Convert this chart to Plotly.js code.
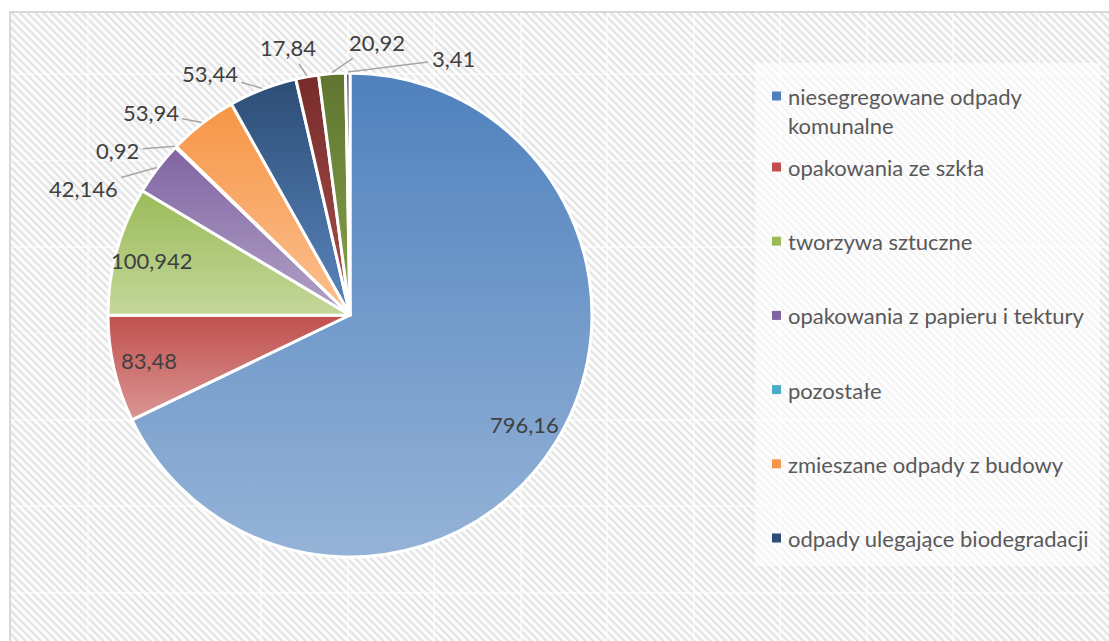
<!DOCTYPE html>
<html><head><meta charset="utf-8">
<script src="https://cdn.plot.ly/plotly-3.0.1.min.js"></script>
<style>
html,body{margin:0;padding:0;background:#fff;}
#wrap{position:relative;width:1109px;height:641px;overflow:hidden;background:#fff;}
#bg{position:absolute;left:9px;top:11px;width:1120px;height:650px;border-left:2px solid #d9d9d9;border-top:2px solid #d9d9d9;
background:
 repeating-linear-gradient(90deg, rgba(255,255,255,0) 0px, rgba(255,255,255,0) 76px, rgba(255,255,255,0.55) 76px, rgba(255,255,255,0.55) 78px, rgba(255,255,255,0) 78px, rgba(255,255,255,0) 86.5px),
 repeating-linear-gradient(180deg, rgba(255,255,255,0) 0px, rgba(255,255,255,0) 60px, rgba(255,255,255,0.55) 60px, rgba(255,255,255,0.55) 62px, rgba(255,255,255,0) 62px, rgba(255,255,255,0) 86.5px),
 repeating-linear-gradient(45deg, #fcfcfc 0px, #fcfcfc 2.2px, #e4e4e4 3.2px, #e4e4e4 4.5px, #fcfcfc 5.5px);}
#chart{position:absolute;left:0;top:0;width:1109px;height:641px;}
</style>
</head><body>
<div id="wrap"><div id="bg"></div><div id="chart"></div></div>
<script>
// ---- data ----
const labels = [
  "niesegregowane odpady<br>komunalne",
  "opakowania ze szkła",
  "tworzywa sztuczne",
  "opakowania z papieru i tektury",
  "pozostałe",
  "zmieszane odpady z budowy",
  "odpady ulegające biodegradacji",
  "kategoria 8",
  "kategoria 9",
  "kategoria 10"
];
const values = [796.16, 83.48, 100.942, 42.146, 0.92, 53.94, 53.44, 17.84, 20.92, 3.41];
const legendCount = 7; // entries visible in the legend

// ---- style ----
const topColors    = ["#4F81BD","#C0504D","#9BBB59","#8064A2","#4BACC6","#F79646","#2C4D75","#772C2A","#5F7530","#4D3B62"];
const bottomColors = ["#95B3D7","#DA9694","#C4D79B","#B3A2C7","#92CDDC","#FAC090","#5A86BE","#A9504D","#87A34C","#7F68A0"];
const FONT = "Lato, 'Open Sans', sans-serif";
const FS = 22;
const LABEL_COLOR = '#404040';

const W = 1109, H = 641;
const dom = {x: [107/W, 593/W], y: [84/H, 568/H]};

const trace = {
  type: 'pie',
  values: values,
  labels: labels,
  textinfo: 'none',
  sort: false,
  direction: 'clockwise',
  rotation: 0,
  marker: {colors: topColors, line: {color: '#ffffff', width: 3}},
  domain: dom,
  showlegend: false,
  hoverinfo: 'label+value',
  automargin: false
};

// ---- geometry derived from the pie domain ----
const pxL = dom.x[0]*W, pxR = dom.x[1]*W, pyT = (1-dom.y[1])*H, pyB = (1-dom.y[0])*H;
const R = Math.min(pxR-pxL, pyB-pyT)/2;
const cx = (pxL+pxR)/2, cy = (pyT+pyB)/2;
const total = values.reduce((a,b)=>a+b, 0);
let cum = 0;
const mids = values.map(v => { const m = (cum + v/2)/total*360; cum += v; return m; });
const fmt = v => String(v).replace('.', ',');
const isInside = values.map(v => v/total > 0.06);
const D2R = Math.PI/180;

const annotations = [];
// inside labels
values.forEach((v, i) => {
  if (!isInside[i]) return;
  const a = mids[i]*D2R, r = 0.85*R;
  annotations.push({xref:'paper', yref:'paper', x:(cx + r*Math.sin(a))/W, y:1-(cy - r*Math.cos(a))/H,
    xanchor:'center', yanchor:'middle', showarrow:false, text: fmt(v),
    font:{family:FONT, size:FS, color:LABEL_COLOR}});
});
// outside labels: spread along an arc so neighbouring boxes do not collide
const outIdx = values.map((v,i)=>i).filter(i => !isInside[i]);
const outText = outIdx.map(i => fmt(values[i]));
const halfW = outText.map(t => t.length*0.5*FS/2);
const ang = outIdx.map(i => mids[i]);
const RL = R + 20;
for (let it = 0; it < 600; it++) {
  for (let j = 1; j < ang.length; j++) {
    const am = (ang[j] + ang[j-1])/2*D2R;
    const need = Math.max(Math.abs(Math.cos(am))*(halfW[j] + halfW[j-1] + 24),
                          Math.abs(Math.sin(am))*(FS*1.25 + 8)) / RL / D2R;
    const d = ang[j] - ang[j-1];
    if (d < need) { const s = (need - d)/2; ang[j-1] -= s; ang[j] += s; }
  }
}
outIdx.forEach((i, k) => {
  const a = ang[k]*D2R, am = mids[i]*D2R;
  const sa = Math.sin(a), ca = Math.cos(a);
  const lx = cx + RL*sa + Math.sign(sa)*(halfW[k] + 6)*Math.abs(sa);
  const ly = cy - RL*ca - Math.sign(ca)*12*Math.abs(ca);
  const tx = cx + (R+1)*Math.sin(am), ty = cy - (R+1)*Math.cos(am);
  annotations.push({xref:'paper', yref:'paper', x: tx/W, y: 1-ty/H,
    ax: lx - tx, ay: ly - ty, axref:'pixel', ayref:'pixel',
    showarrow:true, arrowhead:0, arrowwidth:1.5, arrowcolor:'#a6a6a6', standoff:0, startstandoff:2,
    text: outText[k], font:{family:FONT, size:FS, color:LABEL_COLOR}});
});

// legend built from labels
const shapes = [{
  type: 'rect', xref: 'paper', yref: 'paper', layer: 'below',
  x0: 755/W, x1: 1100/W, y0: 1 - 566/H, y1: 1 - 63/H,
  fillcolor: 'rgba(255,255,255,0.6)', line: {width: 0}
}];
const legendY0 = 96, legendY1 = 167, legendStep = 74.2;
for (let i = 0; i < legendCount; i++) {
  const yc = i === 0 ? legendY0 : legendY1 + (i - 1) * legendStep;
  shapes.push({
    type: 'rect', xref: 'paper', yref: 'paper',
    x0: 772/W, x1: 781/W, y0: 1 - (yc + 4.5)/H, y1: 1 - (yc - 4.5)/H,
    fillcolor: topColors[i], line: {width: 0}
  });
  annotations.push({
    xref: 'paper', yref: 'paper', x: 786/W, y: 1 - (yc - 15)/H,
    xanchor: 'left', yanchor: 'top', align: 'left', showarrow: false,
    text: labels[i], font: {family: FONT, size: FS, color: '#595959'}
  });
}

const layout = {
  width: W, height: H,
  margin: {l: 0, r: 0, t: 0, b: 0},
  paper_bgcolor: 'rgba(0,0,0,0)',
  plot_bgcolor: 'rgba(0,0,0,0)',
  showlegend: false,
  shapes: shapes,
  annotations: annotations
};

Plotly.newPlot('chart', [trace], layout, {displayModeBar: false, staticPlot: true}).then(gd => {
  const ns = 'http://www.w3.org/2000/svg';
  const svg = gd.querySelector('svg.main-svg');
  let defs = svg.querySelector('defs');
  if (!defs) { defs = document.createElementNS(ns, 'defs'); svg.insertBefore(defs, svg.firstChild); }
  gd.querySelectorAll('g.slice').forEach((g, i) => {
    const grad = document.createElementNS(ns, 'linearGradient');
    grad.setAttribute('id', 'sliceGrad' + i);
    grad.setAttribute('x1', '0'); grad.setAttribute('y1', '0');
    grad.setAttribute('x2', '0'); grad.setAttribute('y2', '1');
    [[0, topColors[i]], [1, bottomColors[i]]].forEach(([o, c]) => {
      const s = document.createElementNS(ns, 'stop');
      s.setAttribute('offset', o); s.setAttribute('stop-color', c);
      grad.appendChild(s);
    });
    defs.appendChild(grad);
    const p = g.querySelector('path.surface');
    if (p) p.style.fill = 'url(#sliceGrad' + i + ')';
  });
});
</script>
</body></html>
